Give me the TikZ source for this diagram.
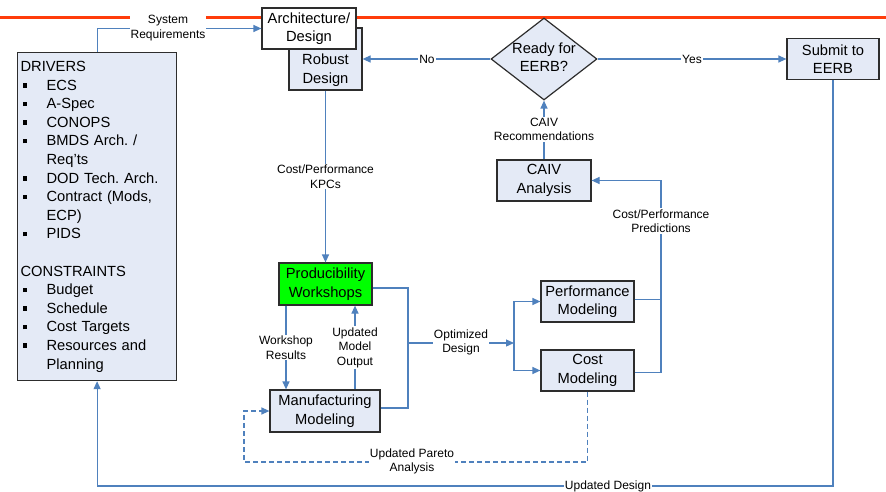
\documentclass[tikz,border=0pt]{standalone}
\usepackage{fontspec}
\setmainfont{Liberation Sans}
\usetikzlibrary{shapes.geometric,arrows.meta,calc}

\definecolor{boxfill}{RGB}{228,234,246}
\definecolor{flowblue}{RGB}{79,129,189}
\definecolor{topred}{RGB}{255,60,10}
\definecolor{wsgreen}{RGB}{0,255,0}
\definecolor{edgegray}{RGB}{45,45,45}

% square bullet and continuation indent for the drivers list
\newcommand\drvbul{\makebox[26pt][l]{\hspace{2pt}\rule[2.5pt]{4.5pt}{4.5pt}}}
\newcommand\drvcont{\hspace*{26pt}}

\begin{document}
\frenchspacing
\begin{tikzpicture}[x=1pt,y=-1pt,
  box/.style={draw=edgegray, line width=1.2pt, fill=boxfill, align=center,
              inner sep=0pt, font=\fontsize{14.7}{18.5}\selectfont},
  conn/.style={draw=flowblue, line width=1.2pt, -{Triangle[length=8pt,width=7pt]}},
  connline/.style={draw=flowblue, line width=1.2pt},
  lab/.style={fill=white, inner sep=1pt, align=center,
              font=\fontsize{12}{14.5}\selectfont},
  topline/.style={draw=topred, line width=3pt},
]
\useasboundingbox[fill=white] (0,0) rectangle (886,492);

% horizontal band across the top
\draw[topline] (0,18) -- (886,18);

% boxes
\node[box, anchor=north west, minimum width=159, minimum height=328,
      text width=153pt, inner xsep=3pt, align=left,
      font=\fontsize{14.7}{18.6}\selectfont] (drivers) at (17,52) {%
DRIVERS\\
\drvbul ECS\\
\drvbul A-Spec\\
\drvbul CONOPS\\
\drvbul BMDS Arch. /\\
\drvcont Req'ts\\
\drvbul DOD Tech. Arch.\\
\drvbul Contract (Mods,\\
\drvcont ECP)\\
\drvbul PIDS\\
\mbox{}\\
CONSTRAINTS\\
\drvbul Budget\\
\drvbul Schedule\\
\drvbul Cost Targets\\
\drvbul Resources and\\
\drvcont Planning\par\vspace*{9pt}};

\node[box, minimum width=73, minimum height=62] (robust) at (325.5,59) {\rule{0pt}{33.5pt}Robust\\Design};
\node[box, fill=white, minimum width=94, minimum height=41] (arch) at (309,28.5) {Architecture/\\Design};

\node[box, diamond, minimum width=106, minimum height=82] (ready) at (544,59)
  {\makebox[0pt]{\begin{tabular}{@{}c@{}}Ready for\\EERB?\end{tabular}}};
\node[box, minimum width=92, minimum height=41] (submit) at (833,59) {Submit to\\EERB};
\node[box, minimum width=94, minimum height=41] (caiv) at (544,180.5) {CAIV\\Analysis};
\node[box, fill=wsgreen, minimum width=93, minimum height=42] (prod) at (325.5,284) {Producibility\\Workshops};
\node[box, minimum width=110, minimum height=42] (manuf) at (325,411) {Manufacturing\\Modeling};
\node[box, minimum width=93, minimum height=41] (perf) at (587.5,301.5) {Performance\\Modeling};
\node[box, minimum width=93, minimum height=41] (cost) at (587.5,370.5) {Cost\\Modeling};

% helper coordinates for routing
\coordinate (wsx) at (286,0);
\coordinate (umx) at (355,0);
\coordinate (od) at (408,343);
\coordinate (jn) at (514,343);
\coordinate (pv) at (661,0);
\coordinate (dl) at (244,462);
\coordinate (bl) at (0,486);

% connectors
\draw[conn] (drivers.north) |- (arch.west);
\draw[conn] (ready.west) -- (robust.east);
\draw[conn] (ready.east) -- (submit.west);
\draw[conn] (caiv.north) -- (ready.south);
\draw[conn] (robust.south) -- (prod.north);
\draw[conn] (prod.south -| wsx) -- (manuf.north -| wsx);
\draw[conn] (manuf.north -| umx) -- (prod.south -| umx);
\draw[connline] ($(prod.east)+(0,4)$) -| (od) |- ($(manuf.east)+(0,-3)$);
\draw[conn] (od) -- (jn);
\draw[conn] (jn) |- (perf.west);
\draw[conn] (jn) |- (cost.west);
\draw[connline] ($(perf.east)+(0,-2)$) -- ($(perf.east -| pv)+(0,-2)$);
\draw[conn] ($(cost.east)+(0,2)$) -| (caiv.east -| pv) -- (caiv.east);
\draw[conn, dashed, dash pattern=on 5pt off 3pt] (cost.south) |- (dl) |- (manuf.west);
\draw[conn] (submit.south) -- (submit.south |- bl) -- (drivers.south |- bl) -- (drivers.south);

% connector labels
\node[lab] (lsys) at (168,28) {System\\Requirements};
\node[lab] (lno) at (427,59) {No};
\node[lab] (lyes) at (692,59) {Yes};
\node[lab] (lcaiv) at (544,129.5) {CAIV\\Recommendations};
\node[lab] (lkpc) at (325.5,176.5) {Cost/Performance\\KPCs};
\node[lab] (lws) at (286,347.5) {Workshop\\Results};
\node[lab] (lum) at (355,347.5) {Updated\\Model\\Output};
\node[lab] (lopt) at (461,342.5) {Optimized\\Design};
\node[lab] (lpred) at (661,221) {Cost/Performance\\Predictions};
\node[lab] (lpar) at (412,461.5) {Updated Pareto\\Analysis};
\node[lab] (lupd) at (608,486) {Updated Design};
\end{tikzpicture}
\end{document}
